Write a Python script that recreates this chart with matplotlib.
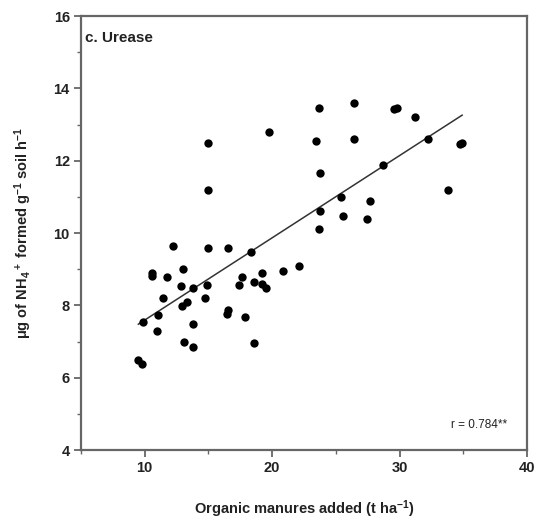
import numpy as np
import matplotlib
matplotlib.use('Agg')
import matplotlib.pyplot as plt
from matplotlib.ticker import MultipleLocator

plt.rcParams['font.family'] = ['Liberation Sans', 'DejaVu Sans']
plt.rcParams['mathtext.default'] = 'regular'

#----------- Data -----------#
# organic manures added (t/ha)
manure = [9.50, 9.77, 9.89, 10.55, 10.55, 11.00, 11.07, 11.47, 11.73, 12.25,
          12.99, 12.83, 12.91, 13.30, 13.09, 13.77, 13.82, 13.82, 14.87, 14.74,
          15.00, 15.00, 15.00, 16.57, 16.57, 16.45, 17.41, 17.67, 17.88, 18.33,
          18.61, 18.61, 19.19, 19.19, 19.53, 19.77, 20.89, 22.12, 23.70, 23.46,
          23.77, 23.77, 23.70, 25.42, 25.53, 26.45, 26.45, 27.65, 27.44, 28.67,
          29.53, 29.80, 31.21, 32.20, 33.81, 34.77, 34.91]
# urease activity (ug NH4+ / g soil / h)
urease = [6.49, 6.38, 7.55, 8.89, 8.80, 7.30, 7.73, 8.21, 8.79, 9.64,
          9.00, 8.54, 7.99, 8.10, 7.00, 8.49, 7.48, 6.86, 8.56, 8.21,
          9.58, 11.19, 12.48, 9.58, 7.87, 7.76, 8.55, 8.79, 7.67, 9.48,
          8.65, 6.95, 8.90, 8.59, 8.47, 12.78, 8.95, 9.09, 13.45, 12.54,
          11.65, 10.61, 10.10, 10.99, 10.48, 13.59, 12.59, 10.89, 10.39, 11.88,
          13.42, 13.45, 13.20, 12.59, 11.19, 12.46, 12.50]

x = np.array(manure)
y = np.array(urease)

#----------- Plot -----------#
fig = plt.figure(figsize=(5.37, 5.20), dpi=100)
ax = fig.add_axes([0.1508, 0.1346, 0.8306, 0.8346])

ax.scatter(x, y, s=36, color='black', zorder=3, linewidths=0)

# linear fit
b, a = np.polyfit(x, y, 1)
xl = np.array([x.min(), x.max()])
ax.plot(xl, a + b * xl, color='#333333', lw=1.1, zorder=2)

ax.set_xlim(5, 40)
ax.set_ylim(4, 16)
ax.xaxis.set_major_locator(MultipleLocator(10))
ax.xaxis.set_minor_locator(MultipleLocator(5))
ax.yaxis.set_major_locator(MultipleLocator(2))
ax.yaxis.set_minor_locator(MultipleLocator(1))

for s in ax.spines.values():
    s.set_color('#666666')
    s.set_linewidth(1.6)
ax.tick_params(which='major', direction='out', length=5, width=1.3, color='#666666',
               labelsize=10.5, pad=3)
ax.tick_params(which='minor', direction='out', length=3, width=1.0, color='#666666')
for lab in ax.get_xticklabels() + ax.get_yticklabels():
    lab.set_fontweight('bold')
    lab.set_color('#222222')

ax.set_xlabel('Organic manures added (t ha$^{-1}$)', fontsize=10.5, fontweight='bold',
              labelpad=17, color='#222222')
ax.set_ylabel('\u03bcg of NH$_4$$^+$ formed g$^{-1}$ soil h$^{-1}$', fontsize=10.5,
              fontweight='bold', labelpad=14, color='#222222')

ax.text(0.01, 0.965, 'c. Urease', transform=ax.transAxes, fontsize=11,
        fontweight='bold', va='top', ha='left', color='#222222')
ax.text(0.955, 0.058, 'r = 0.784**', transform=ax.transAxes, fontsize=8.5,
        va='center', ha='right', color='#222222')

plt.savefig('out.png', dpi=100)
